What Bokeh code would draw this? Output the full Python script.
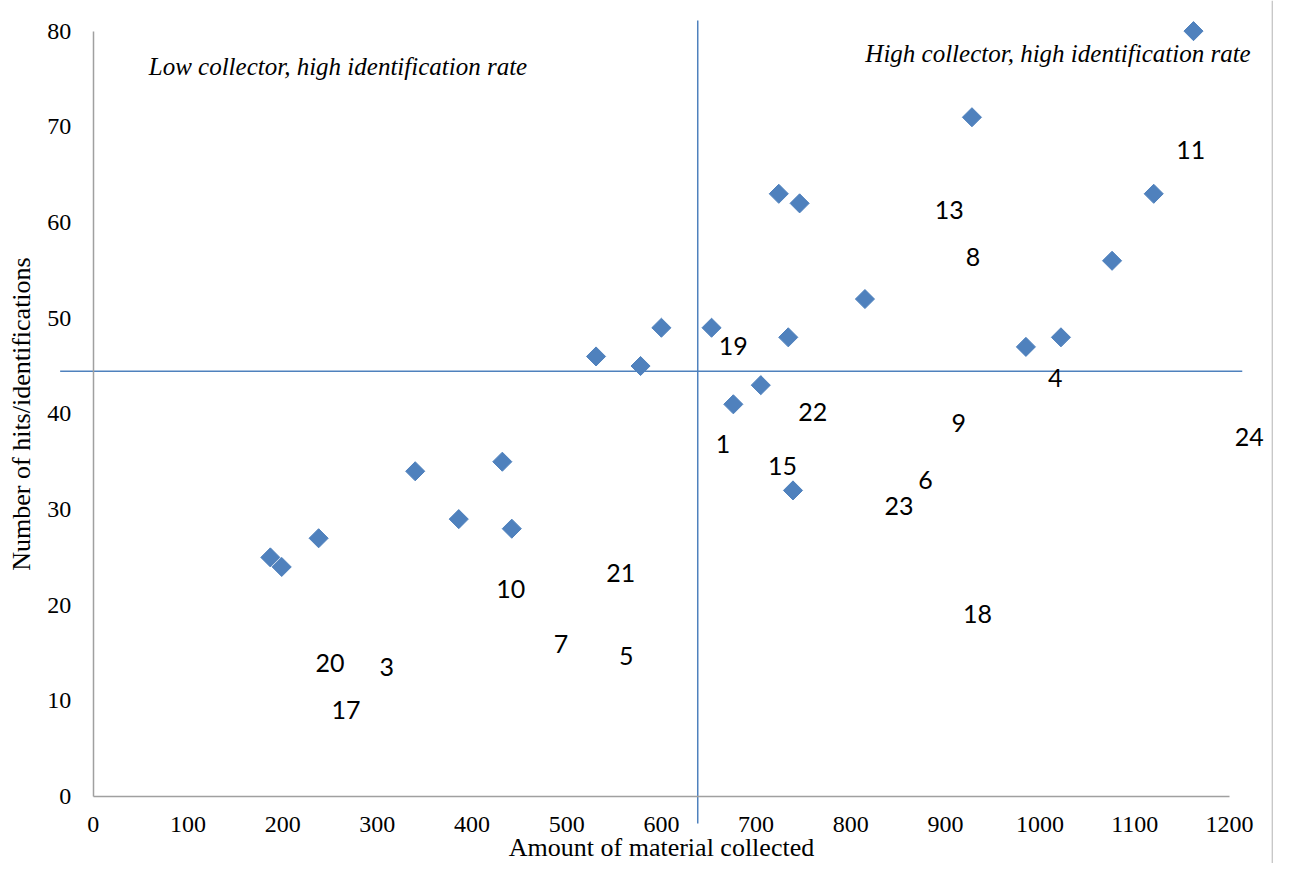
import math
from bokeh.plotting import figure
from bokeh.models import Range1d, LinearAxis, FixedTicker, Span, ColumnDataSource
from bokeh.embed import file_html
from bokeh.resources import INLINE
from bokeh.core.properties import value

# ---- data ----
amount = [187, 199, 238, 340, 386, 432, 442, 531, 578, 600, 653, 676,
          705, 724, 734, 739, 746, 815, 928, 985, 1022, 1076, 1120, 1162]
hits = [25, 24, 27, 34, 29, 35, 28, 46, 45, 49, 49, 41,
        43, 63, 48, 32, 62, 52, 71, 47, 48, 56, 63, 80]

label_ids = ["1", "3", "4", "5", "6", "7", "8", "9", "10", "11", "13", "15",
             "17", "18", "19", "20", "21", "22", "23", "24"]
label_x = [665, 310, 1016, 563, 879, 494, 929, 914, 441, 1159, 904, 728,
           267, 934, 676, 250, 557, 760, 851, 1221]
label_y = [36.9, 13.5, 43.8, 14.7, 33.1, 15.9, 56.4, 39.0, 21.7, 67.6, 61.3, 34.5,
           9.0, 19.1, 47.1, 14.0, 23.4, 40.2, 30.4, 37.6]

x_ticks = [0, 100, 200, 300, 400, 500, 600, 700, 800, 900, 1000, 1100, 1200]
y_ticks = [0, 10, 20, 30, 40, 50, 60, 70, 80]

split_x = 638.4
split_y = 44.46
vline_y = [-2.8, 81.1]
hline_x = [-35.0, 1213.5]

quad_texts = ["Low collector, high identification rate",
              "High collector, high identification rate"]
quad_x = [258.4, 1018.9]
quad_y = [76.3, 77.7]

SERIF = "Liberation Serif"
BLUE = "#4F81BD"

p = figure(width=1273, height=863, output_backend="svg", toolbar_location=None,
           x_range=Range1d(-98.0, 1246.5), y_range=Range1d(-6.99, 83.2),
           x_axis_type=None, y_axis_type=None, min_border=0,
           outline_line_color=None)

xaxis = LinearAxis(fixed_location=0, bounds=(0, 1200),
                   ticker=FixedTicker(ticks=x_ticks),
                   axis_label="Amount of material collected")
yaxis = LinearAxis(fixed_location=0, bounds=(0, 80),
                   ticker=FixedTicker(ticks=y_ticks),
                   axis_label="Number of hits/identifications")
for ax in (xaxis, yaxis):
    ax.axis_line_color = "#a0a0a0"
    ax.axis_line_width = 1.5
    ax.major_tick_line_color = None
    ax.minor_tick_line_color = None
    ax.major_tick_in = 0
    ax.major_tick_out = 0
    ax.major_label_text_font = SERIF
    ax.major_label_text_font_size = "24px"
    ax.major_label_text_color = "#000000"
    ax.axis_label_text_font = SERIF
    ax.axis_label_text_font_size = "26px"
    ax.axis_label_text_font_style = "normal"
    ax.axis_label_text_color = "#000000"
xaxis.major_label_standoff = 20
xaxis.axis_label_standoff = -2
yaxis.major_label_standoff = 22
yaxis.axis_label_standoff = 9
p.add_layout(xaxis, "below")
p.add_layout(yaxis, "left")

# quadrant dividers
p.segment(x0=[split_x], y0=[vline_y[0]], x1=[split_x], y1=[vline_y[1]],
          line_color=BLUE, line_width=1.5)
p.segment(x0=[hline_x[0]], y0=[split_y], x1=[hline_x[1]], y1=[split_y],
          line_color=BLUE, line_width=1.5)

# right border of chart area
p.add_layout(Span(location=1245.3, dimension="height", line_color="#c8c8c8", line_width=1.5))

# points
p.scatter(amount, hits, marker="square", angle=math.pi / 4, size=13.5,
          fill_color=BLUE, line_color=BLUE, line_width=1)

# data labels
lab_src = ColumnDataSource(dict(x=label_x, y=label_y, t=label_ids))
p.text(x="x", y="y", text="t", source=lab_src, text_font=value("Lato"),
       text_font_size="25px", text_color="#000000",
       text_align="center", text_baseline="middle")

# quadrant annotations
q_src = ColumnDataSource(dict(x=quad_x, y=quad_y, t=quad_texts))
p.text(x="x", y="y", text="t", source=q_src, text_font=value(SERIF),
       text_font_style="italic", text_font_size="25px", text_color="#000000",
       text_align="center", text_baseline="middle")

open("out.html", "w").write(file_html(p, INLINE))
